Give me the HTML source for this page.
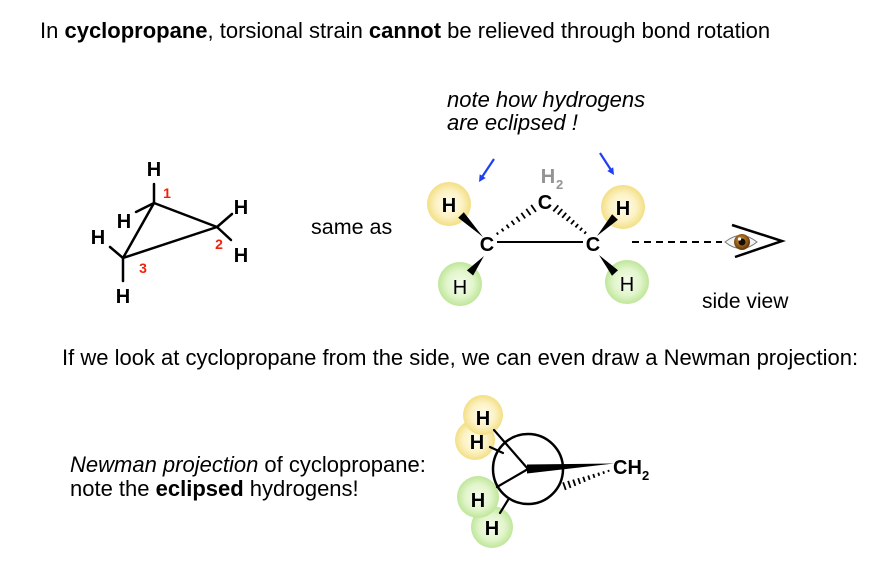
<!DOCTYPE html>
<html><head><meta charset="utf-8"><style>
html,body{margin:0;padding:0;background:#fff;}
svg{display:block;}
text{font-family:"Liberation Sans",Arial,sans-serif;}
</style></head><body>
<svg width="874" height="568" viewBox="0 0 874 568" xmlns="http://www.w3.org/2000/svg">
<defs>
<radialGradient id="yel" cx="50%" cy="50%" r="50%">
<stop offset="0" stop-color="#fffdf0"/><stop offset="0.6" stop-color="#fcf2c4"/><stop offset="1" stop-color="#f3df85"/>
</radialGradient>
<radialGradient id="grn" cx="50%" cy="50%" r="50%">
<stop offset="0" stop-color="#f6fcee"/><stop offset="0.6" stop-color="#e2f5cc"/><stop offset="1" stop-color="#bfe69a"/>
</radialGradient>
<radialGradient id="iris" cx="45%" cy="40%" r="55%">
<stop offset="0" stop-color="#d9a040"/><stop offset="1" stop-color="#6a3a08"/>
</radialGradient>
</defs>

<!-- Title -->
<text x="40" y="38" font-size="22" fill="#000">In <tspan font-weight="bold">cyclopropane</tspan>, torsional strain <tspan font-weight="bold">cannot</tspan> be relieved through bond rotation</text>

<!-- Cyclopropane skeletal -->
<g stroke="#000" stroke-width="2.5" fill="none" stroke-linecap="round">
<polygon points="154,203 217,227 123,258" stroke-linejoin="round"/>
<line x1="154" y1="203" x2="154" y2="184"/>
<line x1="154" y1="203" x2="136" y2="212"/>
<line x1="217" y1="227" x2="232" y2="214"/>
<line x1="217" y1="227" x2="231" y2="240"/>
<line x1="123" y1="258" x2="110" y2="247"/>
<line x1="123" y1="258" x2="123" y2="281"/>
</g>
<g font-size="20" font-weight="bold" text-anchor="middle" fill="#000">
<text x="154" y="176">H</text>
<text x="124" y="228">H</text>
<text x="241" y="214">H</text>
<text x="241" y="262">H</text>
<text x="98" y="244">H</text>
<text x="123" y="303">H</text>
</g>
<g font-size="14" font-weight="bold" text-anchor="middle" fill="#f0200a">
<text x="167" y="198">1</text>
<text x="219" y="249">2</text>
<text x="143" y="273">3</text>
</g>

<text x="311" y="234" font-size="21.5" fill="#000">same as</text>

<!-- note text -->
<text x="447" y="107" font-size="22" font-style="italic" fill="#000">note how hydrogens</text>
<text x="447" y="130" font-size="22" font-style="italic" fill="#000">are eclipsed !</text>

<!-- blue arrows -->
<g stroke="#1f3ff5" stroke-width="2.2" fill="#1f3ff5">
<line x1="494" y1="159" x2="482" y2="177"/>
<polygon points="479,182 485.7,178 479.7,174.2" stroke="none"/>
<line x1="600" y1="153" x2="611" y2="170"/>
<polygon points="614,175 613.2,167.2 607.3,171" stroke="none"/>
</g>

<!-- circles top molecule -->
<circle cx="449" cy="204" r="22" fill="url(#yel)"/>
<circle cx="460" cy="284" r="22" fill="url(#grn)"/>
<circle cx="623" cy="207" r="22" fill="url(#yel)"/>
<circle cx="627" cy="282" r="22" fill="url(#grn)"/>

<!-- bonds -->
<line x1="497" y1="242" x2="583" y2="242" stroke="#000" stroke-width="2"/>
<g stroke="#000" stroke-width="1.8">
<line x1="496.71" y1="232.55" x2="498.17" y2="234.65"/>
<line x1="501.63" y1="228.61" x2="503.57" y2="231.39"/>
<line x1="506.55" y1="224.66" x2="508.97" y2="228.14"/>
<line x1="511.47" y1="220.72" x2="514.37" y2="224.88"/>
<line x1="516.39" y1="216.77" x2="519.77" y2="221.63"/>
<line x1="521.31" y1="212.83" x2="525.17" y2="218.37"/>
<line x1="526.23" y1="208.88" x2="530.57" y2="215.12"/>
<line x1="531.15" y1="204.94" x2="535.97" y2="211.86"/>
<line x1="553.28" y1="211.37" x2="558.32" y2="205.27"/>
<line x1="557.71" y1="214.57" x2="562.29" y2="209.03"/>
<line x1="562.14" y1="217.77" x2="566.26" y2="212.79"/>
<line x1="566.57" y1="220.97" x2="570.23" y2="216.55"/>
<line x1="570.99" y1="224.18" x2="574.21" y2="220.3"/>
<line x1="575.42" y1="227.38" x2="578.18" y2="224.06"/>
<line x1="579.85" y1="230.58" x2="582.15" y2="227.82"/>
<line x1="584.28" y1="233.79" x2="586.12" y2="231.57"/>
</g>
<g fill="#000">
<polygon points="483,237 463.8,212.2 458.2,217.8"/>
<polygon points="484,256 473.1,275.5 466.9,270.4"/>
<polygon points="597,236 617.9,219.7 612.1,214.2"/>
<polygon points="599,255 618,270.3 612,275.7"/>
</g>

<g font-size="20" font-weight="bold" text-anchor="middle" fill="#000">
<text x="449" y="212">H</text>
<text x="623" y="215">H</text>
<text x="545" y="209">C</text>
<text x="487" y="251">C</text>
<text x="593" y="251">C</text>
</g>
<g font-size="20" text-anchor="middle" fill="#000">
<text x="460" y="294">H</text>
<text x="627" y="291">H</text>
</g>
<text x="548" y="183" font-size="20" font-weight="bold" text-anchor="middle" fill="#939393">H</text>
<text x="556" y="189" font-size="13" font-weight="bold" fill="#939393">2</text>

<!-- dashed line + eye -->
<line x1="632" y1="242" x2="722" y2="242" stroke="#000" stroke-width="2" stroke-dasharray="7,5"/>
<path d="M725,242 Q741,229 757,242 Q741,255 725,242 Z" fill="#f4f4f4" stroke="#777" stroke-width="1"/>
<circle cx="742" cy="242" r="8" fill="url(#iris)"/>
<circle cx="742" cy="242" r="3.5" fill="#1a0c00"/>
<circle cx="739.5" cy="239" r="1.6" fill="#fff"/>
<polyline points="732,225 782,241 735,257" fill="none" stroke="#000" stroke-width="2.5"/>
<text x="702" y="308" font-size="21" fill="#000">side view</text>

<!-- middle line -->
<text x="62" y="365" font-size="22" fill="#000">If we look at cyclopropane from the side, we can even draw a Newman projection:</text>

<!-- bottom text -->
<text x="70" y="472" font-size="22" fill="#000"><tspan font-style="italic">Newman projection</tspan> of cyclopropane:</text>
<text x="70" y="496" font-size="22" fill="#000">note the <tspan font-weight="bold">eclipsed</tspan> hydrogens!</text>

<!-- Newman projection -->
<circle cx="475" cy="440" r="20" fill="url(#yel)"/>
<circle cx="483" cy="415" r="20" fill="url(#yel)"/>
<circle cx="492" cy="527" r="21" fill="url(#grn)"/>
<circle cx="478" cy="497" r="21" fill="url(#grn)"/>
<circle cx="528" cy="469" r="35" fill="none" stroke="#000" stroke-width="2.5"/>
<g stroke="#000" stroke-width="2.2" stroke-linecap="round">
<line x1="528" y1="469" x2="494" y2="430"/>
<line x1="528" y1="469" x2="497" y2="487"/>
<line x1="503" y1="453" x2="490" y2="447"/>
<line x1="508" y1="500" x2="500" y2="513"/>
</g>
<polygon points="527,464.5 527,473.5 614,463.5" fill="#000"/>
<g stroke="#000" stroke-width="1.8">
<line x1="563.13" y1="482.35" x2="565.77" y2="489.95"/>
<line x1="568.14" y1="480.97" x2="570.56" y2="487.93"/>
<line x1="573.15" y1="479.59" x2="575.35" y2="485.91"/>
<line x1="578.16" y1="478.21" x2="580.14" y2="483.89"/>
<line x1="583.17" y1="476.83" x2="584.93" y2="481.87"/>
<line x1="588.19" y1="475.45" x2="589.71" y2="479.85"/>
<line x1="593.2" y1="474.07" x2="594.5" y2="477.83"/>
<line x1="598.21" y1="472.69" x2="599.29" y2="475.81"/>
<line x1="603.22" y1="471.31" x2="604.08" y2="473.79"/>
<line x1="608.23" y1="469.93" x2="608.87" y2="471.77"/>
</g>
<g font-size="20" font-weight="bold" text-anchor="middle" fill="#000">
<text x="483" y="425">H</text>
<text x="477" y="449">H</text>
<text x="478" y="507">H</text>
<text x="492" y="535">H</text>
</g>
<text x="613" y="474" font-size="20" font-weight="bold" fill="#000">CH</text>
<text x="642" y="480" font-size="13" font-weight="bold" fill="#000">2</text>
</svg>
</body></html>
